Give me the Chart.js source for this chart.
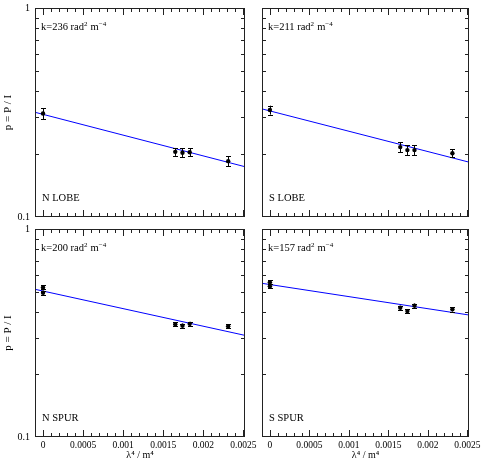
<!DOCTYPE html>
<html>
<head>
<meta charset="utf-8">
<script src="https://cdn.jsdelivr.net/npm/chart.js@4.4.1/dist/chart.umd.min.js"></script>
<style>
  html, body { margin: 0; padding: 0; background: #fff; }
  #wrap { position: relative; width: 487px; height: 463px; }
  #wrap canvas { position: absolute; }
</style>
</head>
<body>
<div id="wrap">
  <canvas id="nLobe" width="258" height="225" style="left:0;top:0"></canvas>
  <canvas id="sLobe" width="229" height="225" style="left:258px;top:0"></canvas>
  <canvas id="nSpur" width="258" height="243" style="left:0;top:220px"></canvas>
  <canvas id="sSpur" width="229" height="243" style="left:258px;top:220px"></canvas>
</div>
<script>
// lambda^4 (m^4) of the observed points
const lobeX = [0, 0.00165, 0.00174, 0.00183, 0.00231];
const spurX = [0, 0, 0.00165, 0.00174, 0.00183, 0.00231];

// fractional polarisation and errors
const nLobeP = [0.313, 0.205, 0.203, 0.204, 0.185];
const nLobeErr = [0.019, 0.009, 0.010, 0.009, 0.010];
const sLobeP = [0.325, 0.216, 0.209, 0.209, 0.202];
const sLobeErr = [0.016, 0.012, 0.011, 0.011, 0.009];
const nSpurP = [0.524, 0.494, 0.348, 0.343, 0.350, 0.341];
const nSpurErr = [0.012, 0.011, 0.008, 0.008, 0.008, 0.008];
const sSpurP = [0.554, 0.530, 0.418, 0.403, 0.428, 0.411];
const sSpurErr = [0.013, 0.012, 0.009, 0.009, 0.010, 0.010];

// fitted lines, value at left and right edge of each frame
const fitX = [-0.0001, 0.00252];
const nLobeFit = [0.317, 0.174];
const sLobeFit = [0.329, 0.183];
const nSpurFit = [0.513, 0.308];
const sSpurFit = [0.548, 0.386];

const panelNames = ['N LOBE', 'S LOBE', 'N SPUR', 'S SPUR'];
const kValues = ['236', '211', '200', '157'];

const xMin = -0.0001, xMax = 0.00252;
const xMajorTicks = [0, 0.0005, 0.001, 0.0015, 0.002, 0.0025];
const xTickLabels = ['0', '0.0005', '0.001', '0.0015', '0.002', '0.0025'];
const xMinorTicks = [];
for (let i = -1; i <= 25; i++) xMinorTicks.push(i * 0.0001);
const yTicks = [0.1, 1];
const yTickLabels = ['0.1', '1'];
const yMinorTicks = [0.2, 0.3, 0.4, 0.5, 0.6, 0.7, 0.8, 0.9];

const FONT = 'Liberation Serif, DejaVu Serif, serif';

const panelPlugin = {
  id: 'panelText',
  afterDatasetsDraw(chart) {
    // error bars
    const { ctx, scales: { x, y } } = chart;
    ctx.save();
    ctx.strokeStyle = '#000';
    ctx.lineWidth = 1;
    ctx.beginPath();
    chart.data.datasets[0].data.forEach(d => {
      const px = Math.round(x.getPixelForValue(d.x)) + 0.5;
      const top = y.getPixelForValue(d.y + d.err);
      const bot = y.getPixelForValue(d.y - d.err);
      ctx.moveTo(px, top); ctx.lineTo(px, bot);
      ctx.moveTo(px - 2.5, Math.round(top) + 0.5); ctx.lineTo(px + 2.5, Math.round(top) + 0.5);
      ctx.moveTo(px - 2.5, Math.round(bot) + 0.5); ctx.lineTo(px + 2.5, Math.round(bot) + 0.5);
    });
    ctx.stroke();
    ctx.restore();
  },
  afterDraw(chart, args, opts) {
    const { ctx, chartArea: a, scales: { x, y } } = chart;
    ctx.save();
    ctx.strokeStyle = '#222';
    ctx.lineWidth = 1;
    ctx.strokeRect(a.left + 0.5, a.top + 0.5, a.width - 1, a.height - 1);
    ctx.beginPath();
    xMinorTicks.forEach((v, i) => {
      const px = Math.round(x.getPixelForValue(v)) + 0.5;
      if (px < a.left + 1 || px > a.right - 1) return;
      const len = (i - 1) % 5 === 0 ? 7 : 4;
      ctx.moveTo(px, a.top); ctx.lineTo(px, a.top + len);
      ctx.moveTo(px, a.bottom); ctx.lineTo(px, a.bottom - len);
    });
    yMinorTicks.forEach(v => {
      const py = Math.round(y.getPixelForValue(v)) + 0.5;
      ctx.moveTo(a.left, py); ctx.lineTo(a.left + 4, py);
      ctx.moveTo(a.right, py); ctx.lineTo(a.right - 4, py);
    });
    ctx.stroke();

    // panel labels
    ctx.fillStyle = '#000';
    ctx.textBaseline = 'alphabetic';
    let tx = a.left + 6;
    const ty = a.top + 22;
    const parts = [['k=' + opts.k + ' rad', false], ['2', true], [' m', false], ['\u22124', true]];
    parts.forEach(([t, sup]) => {
      ctx.font = (sup ? '7px ' : '10.5px ') + FONT;
      ctx.fillText(t, tx, sup ? ty - 4 : ty);
      tx += ctx.measureText(t).width + (sup ? 0.5 : 0);
    });
    ctx.font = '10.5px ' + FONT;
    ctx.fillText(opts.name, a.left + 7, a.bottom - 16);
    ctx.restore();
  }
};

function makePanel(id, idx, xs, p, err, fit, left, bottom) {
  return new Chart(id, {
    type: 'scatter',
    data: {
      datasets: [
        {
          data: xs.map((v, i) => ({ x: v, y: p[i], err: err[i] })),
          pointRadius: 2.2, backgroundColor: '#000', borderWidth: 0
        },
        {
          data: fitX.map((v, i) => ({ x: v, y: fit[i] })),
          showLine: true, borderColor: '#0000ff', borderWidth: 1, pointRadius: 0
        }
      ]
    },
    options: {
      responsive: false,
      animation: false,
      events: [],
      layout: { padding: { top: bottom ? 9 : 8, right: left ? 13 : 18, bottom: 0, left: 0 } },
      plugins: {
        legend: { display: false },
        tooltip: { enabled: false },
        panelText: { k: kValues[idx], name: panelNames[idx] }
      },
      scales: {
        x: {
          type: 'linear', min: xMin, max: xMax,
          grid: { display: false, drawTicks: false },
          border: { display: false },
          afterBuildTicks: s => { s.ticks = xMajorTicks.map(v => ({ value: v })); },
          afterFit: s => { s.height = bottom ? 26 : 8; s.paddingLeft = 0; s.paddingRight = 0; },
          ticks: {
            display: bottom, autoSkip: false, maxRotation: 0, minRotation: 0, padding: 3,
            color: '#000', font: { family: FONT, size: 9.5 },
            callback: (v, i) => xTickLabels[i]
          },
          title: {
            display: bottom, text: 'λ⁴ / m⁴', color: '#000',
            font: { family: FONT, size: 10 }, padding: { top: 0, bottom: 2 }
          }
        },
        y: {
          type: 'logarithmic', min: 0.1, max: 1,
          grid: { display: false, drawTicks: false },
          border: { display: false },
          afterBuildTicks: s => { s.ticks = yTicks.map(v => ({ value: v })); },
          afterFit: s => { s.width = left ? 35 : 2; s.paddingTop = 0; s.paddingBottom = 0; },
          ticks: {
            display: left, autoSkip: false, padding: 5,
            color: '#000', font: { family: FONT, size: 10 },
            callback: (v, i) => yTickLabels[i]
          },
          title: {
            display: left, text: 'p = P / I', color: '#000',
            font: { family: FONT, size: 11 }, padding: { top: 2, bottom: 0 }
          }
        }
      }
    },
    plugins: [panelPlugin]
  });
}

makePanel('nLobe', 0, lobeX, nLobeP, nLobeErr, nLobeFit, true, false);
makePanel('sLobe', 1, lobeX, sLobeP, sLobeErr, sLobeFit, false, false);
makePanel('nSpur', 2, spurX, nSpurP, nSpurErr, nSpurFit, true, true);
makePanel('sSpur', 3, spurX, sSpurP, sSpurErr, sSpurFit, false, true);
</script>
</body>
</html>
